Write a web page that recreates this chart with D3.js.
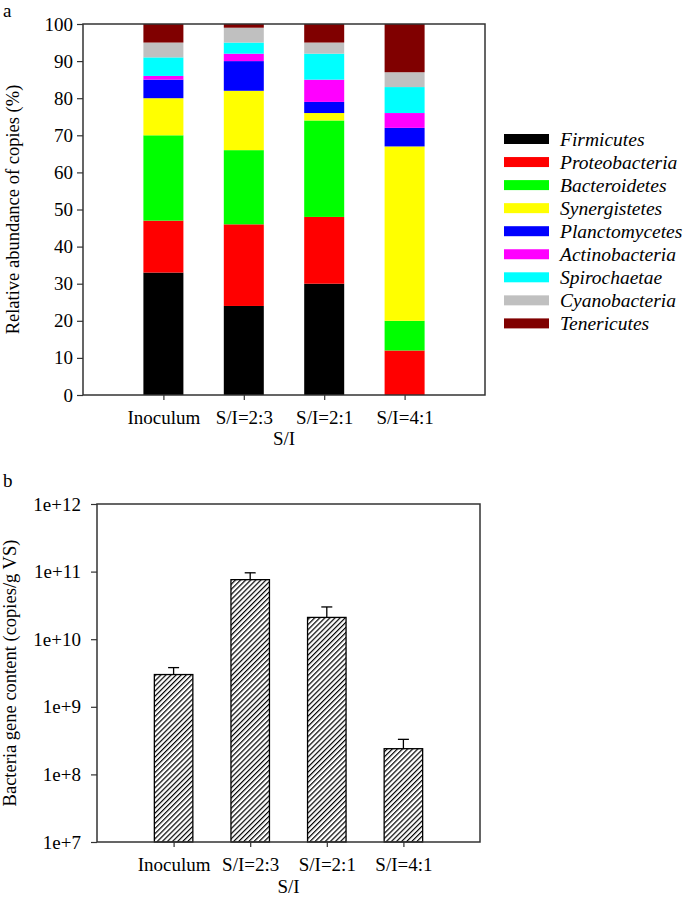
<!DOCTYPE html>
<html>
<head>
<meta charset="utf-8">
<script src="https://cdn.jsdelivr.net/npm/d3@7"></script>
<style>
  body { margin: 0; background: #fff; }
  svg { display: block; }
  text { font-family: "Liberation Serif", "Times New Roman", serif; fill: #000; }
</style>
</head>
<body>
<svg id="chart" width="685" height="899"></svg>
<script>
// ---------- DATA ----------
const categories = ["Inoculum", "S/I=2:3", "S/I=2:1", "S/I=4:1"];
const phyla = ["Firmicutes", "Proteobacteria", "Bacteroidetes", "Synergistetes", "Planctomycetes",
               "Actinobacteria", "Spirochaetae", "Cyanobacteria", "Tenericutes"];
const phylaColors = ["#000000", "#ff0000", "#00ff00", "#ffff00", "#0000ff",
                     "#ff00ff", "#00ffff", "#c0c0c0", "#800000"];
// relative abundance (%) per phylum, in category order
const firmicutes     = [33, 24, 30, 0];
const proteobacteria = [14, 22, 18, 12];
const bacteroidetes  = [23, 20, 26, 8];
const synergistetes  = [10, 16, 2, 47];
const planctomycetes = [5, 8, 3, 5];
const actinobacteria = [1, 2, 6, 4];
const spirochaetae   = [5, 3, 7, 7];
const cyanobacteria  = [4, 4, 3, 4];
const tenericutes    = [5, 1, 5, 13];
const seriesValues = [firmicutes, proteobacteria, bacteroidetes, synergistetes, planctomycetes,
                      actinobacteria, spirochaetae, cyanobacteria, tenericutes];
const yTicksA = [0, 10, 20, 30, 40, 50, 60, 70, 80, 90, 100];

// bacteria gene content (copies/g VS)
const geneContent = [3.0e9, 7.6e10, 2.1e10, 2.4e8];
const geneErrorTop = [3.8e9, 9.6e10, 3.0e10, 3.3e8];
const yTicksB = [1e7, 1e8, 1e9, 1e10, 1e11, 1e12];
const yTickLabelsB = ["1e+7", "1e+8", "1e+9", "1e+10", "1e+11", "1e+12"];

// ---------- DRAW ----------
const svg = d3.select("#chart");
const axisColor = "#333";
const fs = 19;

// ===== Panel a =====
const A = {left: 83, right: 485, top: 24, bottom: 395};
const xA = d3.scalePoint().domain(categories).range([A.left, A.right]).padding(1);
const yA = d3.scaleLinear().domain([0, 100]).range([A.bottom, A.top]);
const barWA = 40;

const rows = categories.map((c, i) => {
  const r = {cat: c};
  phyla.forEach((p, j) => r[p] = seriesValues[j][i]);
  return r;
});
const stack = d3.stack().keys(phyla)(rows);

const gA = svg.append("g");
stack.forEach((layer, j) => {
  gA.append("g").attr("fill", phylaColors[j])
    .selectAll("rect").data(layer).join("rect")
    .attr("x", d => xA(d.data.cat) - barWA / 2)
    .attr("width", barWA)
    .attr("y", d => yA(d[1]))
    .attr("height", d => Math.max(0, yA(d[0]) - yA(d[1])));
});

// frame
gA.append("rect").attr("x", A.left).attr("y", A.top)
  .attr("width", A.right - A.left).attr("height", A.bottom - A.top)
  .attr("fill", "none").attr("stroke", axisColor).attr("stroke-width", 1.5);

// y axis
const yAxisA = d3.axisLeft(yA).tickValues(yTicksA).tickSize(6).tickPadding(4);
const gyA = gA.append("g").attr("transform", `translate(${A.left},0)`).call(yAxisA);
gyA.select(".domain").remove();
gyA.selectAll("line").attr("stroke", axisColor).attr("stroke-width", 1.2);
gyA.selectAll("text").attr("font-size", fs).attr("font-family", "Liberation Serif");

// x axis
const xAxisA = d3.axisBottom(xA).tickSize(5).tickPadding(11);
const gxA = gA.append("g").attr("transform", `translate(0,${A.bottom})`).call(xAxisA);
gxA.select(".domain").remove();
gxA.selectAll("line").attr("stroke", axisColor).attr("stroke-width", 1.2);
gxA.selectAll("text").attr("font-size", fs).attr("font-family", "Liberation Serif");

svg.append("text").attr("x", (A.left + A.right) / 2).attr("y", 445)
  .attr("text-anchor", "middle").attr("font-size", fs).text("S/I");
svg.append("text").attr("transform", `translate(19,${(A.top + A.bottom) / 2}) rotate(-90)`)
  .attr("text-anchor", "middle").attr("font-size", 18.5).text("Relative abundance of copies (%)");
svg.append("text").attr("x", 3).attr("y", 17).attr("font-size", fs).text("a");

// legend
const leg = svg.append("g").attr("transform", "translate(504,139)");
phyla.forEach((p, j) => {
  const g = leg.append("g").attr("transform", `translate(0,${j * 23.05})`);
  g.append("rect").attr("x", 0).attr("y", -5).attr("width", 45).attr("height", 10)
    .attr("fill", phylaColors[j]);
  g.append("text").attr("x", 56).attr("y", 6.5).attr("font-size", 19.5)
    .attr("font-style", "italic").text(p);
});

// ===== Panel b =====
const B = {left: 97, right: 480, top: 504, bottom: 842};
const xB = d3.scalePoint().domain(categories).range([B.left, B.right]).padding(1);
const yB = d3.scaleLog().domain([1e7, 1e12]).range([B.bottom, B.top]);
const barWB = 38.5;

const defs = svg.append("defs");
const pat = defs.append("pattern").attr("id", "hatch").attr("patternUnits", "userSpaceOnUse")
  .attr("width", 3.6).attr("height", 3.6).attr("patternTransform", "rotate(45)");
pat.append("rect").attr("width", 3.6).attr("height", 3.6).attr("fill", "#fff");
pat.append("line").attr("x1", 0).attr("y1", 0).attr("x2", 0).attr("y2", 3.6)
  .attr("stroke", "#000").attr("stroke-width", 2.4);

const gB = svg.append("g");
const bdata = categories.map((c, i) => ({cat: c, v: geneContent[i], e: geneErrorTop[i]}));

// error bars
gB.selectAll(".err").data(bdata).join("line").attr("class", "err")
  .attr("x1", d => xB(d.cat)).attr("x2", d => xB(d.cat))
  .attr("y1", d => yB(d.v)).attr("y2", d => yB(d.e))
  .attr("stroke", "#000").attr("stroke-width", 1.3);
gB.selectAll(".cap").data(bdata).join("line").attr("class", "cap")
  .attr("x1", d => xB(d.cat) - 5.5).attr("x2", d => xB(d.cat) + 5.5)
  .attr("y1", d => yB(d.e)).attr("y2", d => yB(d.e))
  .attr("stroke", "#000").attr("stroke-width", 1.3);

gB.selectAll(".bar").data(bdata).join("rect").attr("class", "bar")
  .attr("x", d => xB(d.cat) - barWB / 2).attr("width", barWB)
  .attr("y", d => yB(d.v)).attr("height", d => yB(1e7) - yB(d.v))
  .attr("fill", "url(#hatch)").attr("stroke", "#000").attr("stroke-width", 1.3);

gB.append("rect").attr("x", B.left).attr("y", B.top)
  .attr("width", B.right - B.left).attr("height", B.bottom - B.top)
  .attr("fill", "none").attr("stroke", axisColor).attr("stroke-width", 1.5);

const yAxisB = d3.axisLeft(yB).tickValues(yTicksB).tickFormat((d, i) => yTickLabelsB[i])
  .tickSize(6).tickPadding(10);
const gyB = gB.append("g").attr("transform", `translate(${B.left},0)`).call(yAxisB);
gyB.select(".domain").remove();
gyB.selectAll("line").attr("stroke", axisColor).attr("stroke-width", 1.2);
gyB.selectAll("text").attr("font-size", fs).attr("font-family", "Liberation Serif");

const xAxisB = d3.axisBottom(xB).tickSize(5).tickPadding(11);
const gxB = gB.append("g").attr("transform", `translate(0,${B.bottom})`).call(xAxisB);
gxB.select(".domain").remove();
gxB.selectAll("line").attr("stroke", axisColor).attr("stroke-width", 1.2);
gxB.selectAll("text").attr("font-size", fs).attr("font-family", "Liberation Serif");

svg.append("text").attr("x", (B.left + B.right) / 2).attr("y", 893)
  .attr("text-anchor", "middle").attr("font-size", fs).text("S/I");
svg.append("text").attr("transform", `translate(16,${(B.top + B.bottom) / 2}) rotate(-90)`)
  .attr("text-anchor", "middle").attr("font-size", 18.5).text("Bacteria gene content (copies/g VS)");
svg.append("text").attr("x", 3).attr("y", 487).attr("font-size", fs).text("b");
</script>
</body>
</html>
